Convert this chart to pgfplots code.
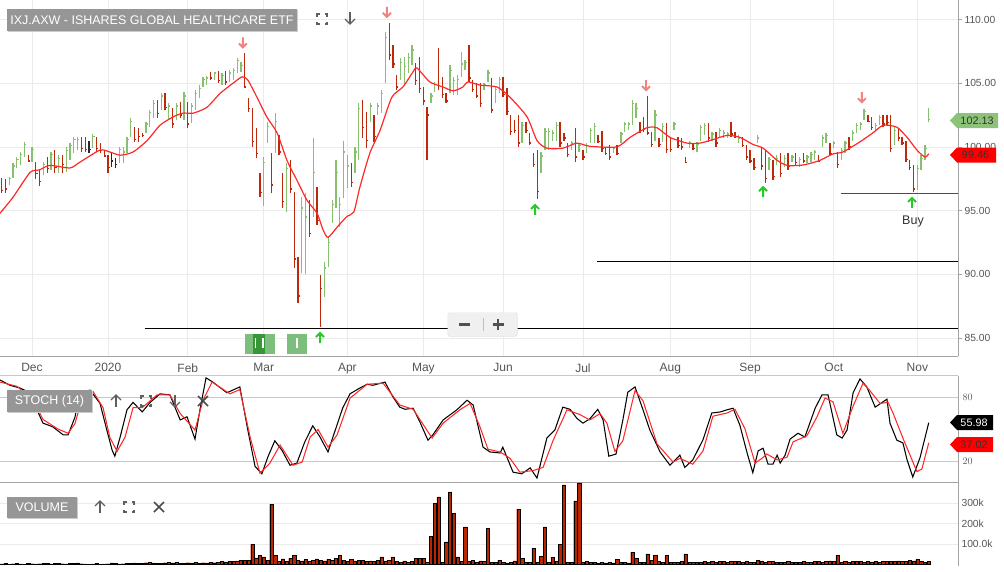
\documentclass[border=0pt]{standalone}
\usepackage{fontspec}
\setmainfont{Liberation Sans}
\usepackage{pgfplots}
\pgfplotsset{compat=1.18}
\usepackage{pgfplotstable}
\definecolor{upg}{RGB}{135,192,110}
\definecolor{dnr}{RGB}{190,40,10}
\definecolor{flatc}{RGB}{40,40,50}
\definecolor{mared}{RGB}{255,40,40}
\definecolor{gridc}{RGB}{235,235,235}
\definecolor{gridd}{RGB}{200,200,200}
\definecolor{axisc}{RGB}{165,165,165}
\definecolor{labc}{RGB}{85,85,85}
\definecolor{volr}{RGB}{185,38,0}
\definecolor{boxg}{RGB}{150,150,150}
\definecolor{arrred}{RGB}{240,130,130}
\definecolor{arrgreen}{RGB}{40,200,40}
\definecolor{tagg}{RGB}{140,195,120}
\definecolor{iconc}{RGB}{95,95,95}
\definecolor{ibox}{RGB}{125,190,125}
\definecolor{iboxd}{RGB}{55,150,55}

\pgfdeclareplotmark{dnarr}{%
 \pgfpathmoveto{\pgfqpoint{0pt}{5pt}}\pgfpathlineto{\pgfqpoint{0pt}{-5pt}}%
 \pgfpathmoveto{\pgfqpoint{-4pt}{-1pt}}\pgfpathlineto{\pgfqpoint{0pt}{-5pt}}\pgfpathlineto{\pgfqpoint{4pt}{-1pt}}%
 \pgfusepathqstroke}
\pgfdeclareplotmark{uparr}{%
 \pgfpathmoveto{\pgfqpoint{0pt}{-5pt}}\pgfpathlineto{\pgfqpoint{0pt}{5pt}}%
 \pgfpathmoveto{\pgfqpoint{-4pt}{1pt}}\pgfpathlineto{\pgfqpoint{0pt}{5pt}}\pgfpathlineto{\pgfqpoint{4pt}{1pt}}%
 \pgfusepathqstroke}

\pgfplotstableread{
j h l c d
0 97.55 96.4 96.6 -1
1 97.5 96.4 96.7 -1
2 97.6 97.0 97.5 1
3 98.7 97.55 98.5 1
4 99.2 98.35 99.0 1
5 99.6 98.6 99.4 1
6 100.4 99.2 100.2 1
7 99.4 98.8 98.9 -1
8 100.0 98.8 99.8 1
9 98.8 97.5 97.9 -1
10 98.2 96.9 97.3 -1
11 98.8 97.8 98.6 1
12 99.2 97.95 98.3 -1
13 99.6 98.2 99.4 1
14 99.75 97.95 98.4 -1
15 99.35 97.95 99.1 1
16 99.35 97.95 98.6 -1
17 100.0 98.0 99.7 1
18 100.3 99.0 100.1 1
19 100.8 99.5 100.6 1
20 100.8 99.75 100.6 1
21 100.8 99.6 99.9 -1
22 100.8 99.6 99.8 -1
23 100.5 99.5 99.8 0
24 101.0 99.9 100.8 1
25 100.8 99.6 99.9 -1
26 100.3 99.5 99.7 -1
27 99.75 99.2 99.3 -1
28 99.35 97.95 98.4 -1
29 99.6 98.4 98.9 0
30 99.1 98.35 98.6 0
31 100.0 98.7 99.8 1
32 100.0 98.7 99.6 1
33 100.8 99.5 100.6 1
34 102.3 100.8 102.0 1
35 101.6 100.4 100.6 -1
36 101.5 100.4 100.8 -1
37 101.1 100.8 100.9 -1
38 101.95 101.1 101.8 1
39 102.9 101.6 102.7 1
40 103.7 102.3 103.4 1
41 103.7 102.3 102.6 -1
42 104.2 102.9 104.0 1
43 104.25 102.9 103.1 -1
44 103.45 102.1 103.2 1
45 103.05 101.5 101.8 -1
46 103.45 102.1 103.2 1
47 103.5 102.3 102.5 -1
48 104.3 102.1 104.0 1
49 103.5 101.5 101.8 -1
50 103.45 101.9 103.2 1
51 104.5 102.9 104.2 1
52 104.85 103.8 104.6 1
53 105.5 104.7 105.3 1
54 105.6 104.85 105.4 1
55 105.9 105.25 105.4 -1
56 105.9 105.25 105.8 1
57 105.95 105.0 105.2 -1
58 105.8 104.85 105.6 1
59 105.95 104.85 105.1 -1
60 106.0 105.1 105.8 1
61 106.2 105.25 106.0 1
62 107.0 105.8 106.8 1
63 106.65 105.9 106.4 1
64 107.35 104.6 104.7 -1
65 103.85 102.75 103.0 -1
66 103.05 100.0 100.4 -1
67 101.5 99.1 99.5 -1
68 97.95 96.05 96.4 -1
69 99.2 95.4 98.8 1
70 101.95 100.3 101.6 1
71 99.5 96.4 97.0 -1
72 102.65 99.5 102.0 1
73 100.9 99.35 99.6 -1
74 97.95 95.2 95.7 -1
75 98.7 94.9 98.3 1
76 98.95 96.4 96.7 -1
77 96.45 90.5 91.2 -1
78 91.35 87.75 88.3 -1
79 96.1 90.1 95.2 1
80 96.4 90.0 94.5 1
81 95.8 92.9 93.2 -1
82 100.7 94.5 98.0 1
83 96.85 93.85 94.2 -1
84 89.95 85.85 88.9 -1
85 90.95 88.2 90.5 1
86 92.85 90.55 92.5 1
87 95.8 94.0 95.5 1
88 98.95 95.2 98.0 1
89 96.1 93.7 95.5 1
90 100.5 96.0 99.6 1
91 99.35 96.75 98.5 1
92 98.7 96.85 97.2 -1
93 100.0 97.95 99.6 1
94 103.45 99.0 103.0 1
95 103.7 100.7 101.5 -1
96 102.75 99.9 100.5 -1
97 103.45 101.95 103.2 1
98 102.5 100.4 100.8 -1
99 103.45 102.5 103.2 1
100 104.45 102.65 104.2 1
101 109.0 105.0 108.6 1
102 109.7 106.8 107.2 -1
103 108.0 106.2 106.5 -1
104 105.65 104.45 104.7 -1
105 107.0 105.25 106.6 1
106 107.05 104.85 106.3 1
107 107.35 105.8 107.0 1
108 108.0 106.4 107.6 1
109 106.6 104.85 105.2 -1
110 107.05 104.2 104.6 -1
111 104.7 103.3 103.6 -1
112 103.1 99.0 102.5 -1
113 104.2 103.45 104.0 1
114 105.1 104.3 104.9 1
115 107.8 104.45 104.8 -1
116 105.5 103.85 104.1 -1
117 104.2 103.45 103.6 -1
118 106.4 104.2 106.0 1
119 105.5 104.05 105.2 1
120 105.65 104.05 105.3 1
121 107.45 105.5 106.5 1
122 106.8 106.0 106.6 1
123 108.0 105.1 105.4 -1
124 105.25 104.3 104.5 -1
125 105.0 103.85 104.0 -1
126 105.0 103.1 103.4 -1
127 105.0 104.45 104.9 1
128 106.0 105.1 105.8 1
129 105.4 102.65 102.9 -1
130 104.7 103.45 104.5 1
131 105.5 104.2 105.3 1
132 105.5 103.9 104.1 -1
133 104.6 102.5 102.8 -1
134 102.5 100.95 101.2 -1
135 102.1 101.1 101.3 -1
136 102.5 100.0 100.3 -1
137 101.95 100.3 101.7 1
138 101.95 101.1 101.3 -1
139 101.1 100.15 100.3 -1
140 99.5 98.4 98.6 -1
141 99.75 95.9 96.5 -1
142 99.6 97.95 99.3 1
143 101.5 99.75 101.2 1
144 101.5 99.75 101.2 1
145 101.3 100.5 101.1 1
146 101.95 100.5 101.7 1
147 101.95 100.0 100.3 -1
148 101.1 100.5 100.7 -1
149 100.3 99.2 99.4 -1
150 100.5 99.75 100.3 1
151 101.5 98.8 99.2 -1
152 100.3 99.6 100.1 1
153 99.75 98.95 99.2 -1
154 100.3 99.5 100.1 1
155 101.5 100.3 101.3 1
156 101.9 100.3 101.6 1
157 100.9 100.3 100.4 -1
158 101.25 99.6 99.9 -1
159 100.0 99.35 99.5 -1
160 100.15 98.95 99.2 -1
161 100.0 99.5 99.9 1
162 100.15 99.35 99.5 -1
163 101.2 100.3 101.0 1
164 101.95 101.2 101.8 1
165 101.95 101.3 101.8 1
166 103.7 101.7 103.4 1
167 103.45 102.3 103.0 1
168 101.95 101.1 101.3 -1
169 102.35 101.15 101.4 -1
170 104.0 100.9 101.1 -1
171 101.15 100.0 100.2 -1
172 102.9 100.5 102.5 1
173 100.7 100.0 100.2 -1
174 101.9 100.4 101.6 1
175 101.9 99.5 99.8 -1
176 100.8 99.6 99.8 -1
177 101.95 101.3 101.8 1
178 100.8 99.9 100.1 -1
179 100.7 99.75 100.0 -1
180 99.2 98.7 98.8 -1
181 100.5 99.9 100.3 1
182 100.3 99.75 99.9 -1
183 100.4 99.6 100.2 1
184 101.75 100.5 101.5 1
185 101.9 100.95 101.7 1
186 101.9 100.4 100.7 -1
187 101.15 100.5 101.0 1
188 101.15 100.0 100.3 -1
189 101.5 100.7 101.3 1
190 101.3 100.7 101.1 1
191 101.15 100.7 101.0 1
192 101.95 100.8 101.0 -1
193 101.15 100.7 100.8 -1
194 100.9 100.3 100.7 1
195 100.8 100.0 100.1 -1
196 100.15 98.95 99.2 -1
197 99.75 98.7 98.9 -1
198 99.1 98.2 98.4 -1
199 100.9 100.3 100.7 1
200 100.0 98.2 98.5 -1
201 99.75 97.2 97.5 -1
202 99.2 98.2 99.0 1
203 98.95 97.4 97.7 -1
204 99.35 98.55 99.1 1
205 99.5 97.6 97.9 -1
206 99.35 98.4 99.1 1
207 99.5 98.2 98.5 -1
208 99.35 98.8 99.2 1
209 99.5 98.6 98.8 -1
210 99.2 98.4 99.0 1
211 99.5 98.7 98.9 -1
212 99.35 98.7 99.2 1
213 99.6 98.8 99.4 1
214 99.75 98.95 99.6 1
215 99.35 98.8 98.9 -1
216 100.9 100.0 100.7 1
217 101.1 100.3 100.9 1
218 100.3 99.35 99.5 -1
219 100.5 99.9 100.3 1
220 99.6 98.35 98.6 -1
221 99.9 98.95 99.7 1
222 100.5 99.5 100.3 1
223 100.8 99.75 100.0 -1
224 101.3 100.5 101.1 1
225 101.9 101.1 101.7 1
226 101.95 101.3 101.8 1
227 102.95 102.1 102.8 1
228 102.5 101.95 102.0 -1
229 102.35 101.3 101.5 -1
230 101.9 101.3 101.7 1
231 102.5 101.7 102.3 1
232 102.5 101.6 101.8 -1
233 102.5 101.7 101.9 -1
234 102.5 99.6 99.9 -1
235 101.6 100.15 101.3 1
236 101.5 100.5 100.7 -1
237 100.8 100.15 100.3 -1
238 100.5 98.8 99.0 -1
239 98.95 98.2 98.4 -1
240 98.6 96.45 96.7 -1
241 98.6 96.6 98.3 1
242 99.35 98.2 99.1 1
243 100.15 98.95 99.9 1
244 103.05 101.95 102.13 1
}\ohlc

\pgfplotsset{
 panel/.style={scale only axis, width=958pt, xmin=-0.42, xmax=251.7,
   axis line style={draw=axisc, line width=0.8pt}, clip=true},
 ohlcbar/.style={draw=none, mark=none, forget plot,
   error bars/y dir=both, error bars/y explicit, error bars/x dir=plus,
   error bars/x fixed=0.45, error bars/error mark=none,
   error bars/error bar style={draw=#1, line width=1.35pt}},
}

\begin{document}
\begin{tikzpicture}[x=1pt,y=1pt]
\useasboundingbox (0pt,-571pt) rectangle (1004pt,0pt);

% ---------------- price panel ----------------
\begin{axis}[panel, at={(0pt,0pt)}, anchor=north west, height=356pt,
 ymin=83.59, ymax=111.53,
 axis x line*=bottom, axis y line*=right,
 xtick={8,49,69,91,111,132,153,176,197,219,241},
 xticklabels={Dec,Feb,Mar,Apr,May,Jun,Jul,Aug,Sep,Oct,Nov},
 extra x ticks={28}, extra x tick labels={2020},
 extra x tick style={grid style={draw=gridd, line width=0.9pt}},
 xtick style={draw=none},
 ytick={85,90,95,100,105,110},
 yticklabels={85.00,90.00,95.00,100.00,105.00,110.00},
 ytick style={draw=axisc, line width=0.6pt}, tick align=outside, major tick length=4pt,
 grid=major, major grid style={draw=gridc, line width=0.8pt},
 xticklabel style={font=\fontsize{12}{12}\selectfont, text=labc},
 yticklabel style={font=\fontsize{10.3}{11}\selectfont, text=labc, xshift=-1pt},
]
\addplot[black, line width=1.1pt] coordinates {(37.7,85.77)(251.7,85.77)};
\addplot[black, line width=1.1pt] coordinates {(156.7,91.03)(251.7,91.03)};
\addplot[black!70, line width=1.6pt] coordinates {(220.9,96.33)(251.7,96.33)};

\addplot[restrict expr to domain={\thisrow{d}}{0.5:1.5}, ohlcbar=upg]
  table[x=j, y=c, y error plus expr=\thisrow{h}-\thisrow{c}, y error minus expr=\thisrow{c}-\thisrow{l}] {\ohlc};
\addplot[restrict expr to domain={\thisrow{d}}{-1.5:-0.5}, ohlcbar=dnr]
  table[x=j, y=c, y error plus expr=\thisrow{h}-\thisrow{c}, y error minus expr=\thisrow{c}-\thisrow{l}] {\ohlc};
\addplot[restrict expr to domain={\thisrow{d}}{-0.5:0.5}, ohlcbar=flatc]
  table[x=j, y=c, y error plus expr=\thisrow{h}-\thisrow{c}, y error minus expr=\thisrow{c}-\thisrow{l}] {\ohlc};

\addplot[mared, line width=1.2pt, smooth, tension=0.4] coordinates {
(-0.4,94.8)(3,96.05)(7.5,98.0)(10,98.2)(12.7,98.55)(18,98.35)(20.6,98.8)(25.9,99.75)
(28.5,99.6)(31.2,99.35)(34.6,99.6)(38.3,100.5)(41.7,101.7)(45.1,102.35)(47.7,102.65)
(50.4,102.65)(54,103.1)(57.5,104.2)(60.9,105.0)(63.3,105.5)(64.8,105.25)(67.2,103.9)
(69.8,102.35)(72.5,101.1)(75.1,98.95)(77.7,97.4)(80.4,95.8)(83,94.8)(84.6,93.5)
(85.9,92.9)(88.3,93.7)(90.9,94.55)(92.7,94.9)(94.3,96.85)(96.9,99.5)(99.6,101.3)
(102.7,103.9)(105.6,104.7)(108.3,105.9)(109.3,106.2)(112.7,105.1)(116.2,104.7)
(118.8,104.4)(121.4,104.7)(122.7,105.1)(125.9,104.85)(130.4,104.7)(133.8,103.9)
(138.3,102.35)(140.9,100.5)(143.5,99.9)(147.7,99.9)(151.4,100.3)(154.8,100.05)
(161.9,100.0)(165.4,100.75)(169.8,101.5)(172.5,101.5)(175.9,100.75)(180.4,100.3)
(183.8,100.3)(186.4,100.5)(190.9,100.9)(194.3,100.75)(197.7,100.2)(200.4,99.9)
(204.1,98.95)(206.7,98.55)(210.1,98.55)(212.7,98.7)(215.4,98.95)(218.8,99.45)
(221.4,99.6)(225.9,100.4)(229.3,101.1)(232,101.7)(235.6,101.55)(238.3,100.75)
(240.9,99.75)(243,99.2)(244,99.46)};

\addplot[only marks, mark=dnarr, arrred, mark options={line width=1.9pt}] coordinates
 {(63.5,108.2)(101.4,110.6)(169.6,104.85)(226.4,103.9)};
\addplot[only marks, mark=uparr, arrgreen, mark options={line width=1.9pt}] coordinates
 {(83.8,85.0)(140.4,95.05)(200.4,96.45)(239.6,95.6)};
\end{axis}

% ---------------- stochastic panel ----------------
\begin{axis}[panel, at={(0pt,-375.7pt)}, anchor=north west, height=106.6pt,
 ymin=0, ymax=100,
 axis x line*=bottom, axis y line*=right,
 xtick=\empty, ytick={20,80}, extra y ticks={100}, extra y tick labels={},
 ymajorgrids, major grid style={draw=gridd, line width=0.9pt},
 ytick style={draw=none},
 yticklabel style={font=\fontsize{10.3}{11}\selectfont, text=labc, xshift=1pt},
]
\addplot[black, line width=1.05pt] coordinates {
(-0.4,96)(2.2,91)(4.8,88.5)(7.5,84)(9.3,68)(10.9,55.5)(13.5,52)(16.2,44.5)(17.5,44.5)
(19.3,61)(20.6,84)(23.3,86.5)(25.9,74)(27.7,49)(29.1,30)(29.8,24.5)(31.2,42.5)(33,68)
(34.6,75)(37,66)(39.1,75)(41.7,83)(44.3,82)(47,58.5)(48.8,61.5)(50.9,40.5)(52.2,68)
(53.8,98)(55.6,94)(59.3,84)(62.7,89.5)(64.8,49)(66.7,15)(68.5,8)(70.1,24)(71.9,39)
(73.8,30)(75.9,16)(77.7,18)(79.8,38)(81.9,53)(83.8,42.5)(85.9,28.5)(87.2,42.5)(89.8,70)
(91.7,83)(94.3,88.5)(96.2,92)(97.7,91)(100.9,94)(103,80)(104.8,70.5)(106.2,68.5)
(108.3,69.5)(110.1,56.5)(112.2,39.5)(113.5,44.5)(116.2,58.5)(119.8,68)(122.5,77)
(124.1,72.5)(126.7,33)(128.5,28.5)(131.2,27.5)(131.9,33)(134.6,9.5)(136.9,8)(139.1,13.5)
(140.9,4)(143.5,41.5)(145.6,49)(147.7,70.5)(149.6,68.5)(151.4,60)(153,55.5)(154.8,59.5)
(156.9,68.5)(158.3,58.5)(159.8,24.5)(161.7,26.5)(163.5,58.5)(164.8,84.5)(166.7,89.5)
(168.8,68)(170.6,49)(173.3,28.5)(175.9,16)(178.5,25.5)(179.8,14)(181.9,21)(184.6,40)
(186.9,65)(189.1,66)(190.9,68)(192.5,69.5)(194.3,53.5)(196.2,27.5)(197.7,9)(199.1,29.5)
(200.4,32)(201.7,17)(203,17)(204.1,25.5)(204.9,18)(206.2,25.5)(207.5,40.5)(209.6,46)
(211.4,42.5)(214.1,69.5)(215.9,82)(217.5,82)(219.8,44.5)(221.2,41.5)(222.5,49)(224.1,84)
(225.9,97)(227.7,89.5)(229.9,70.5)(233,78)(233.8,55.5)(235.6,39.5)(237.2,37)(238.3,21)
(239.8,5)(241.7,23)(244,55.98)};
\addplot[mared, line width=1.05pt] coordinates {
(-0.4,94)(4.1,90)(8.3,77)(10.9,59)(14.8,50)(17.5,46)(19.3,55)(21.4,81)(24.1,85)(26.7,70)
(28.5,42)(30.4,29)(32.5,42.5)(34.6,70)(37,70)(40.9,82)(44.3,82)(47,64.5)(50.9,49)(53,77)
(55.4,94)(60.1,83)(62.7,87)(65.4,42.5)(68,8.5)(70.6,18)(73.3,35)(76.7,16)(79.1,19)
(81.2,42.5)(83.3,49.5)(85.9,33)(88.3,44.5)(91.7,79)(96.2,92)(100.4,93)(104.8,72.5)
(108.3,68.5)(113.3,41.5)(116.2,55.5)(120.6,68)(123.3,74)(125.9,52)(128,31)(131.2,28.5)
(133.8,22.5)(136.4,9.5)(139.9,11)(142.5,14)(145.1,39)(148.8,68)(152.2,63.5)(154.8,58.5)
(157.5,64.5)(159.3,55.5)(161.4,29)(163.5,39)(166.7,86)(168.8,76.5)(172.5,36)(176.7,19)
(178.5,22.5)(181.9,17)(184.6,29.5)(187.2,62)(190.9,65)(193,68.5)(195.6,50.5)(198.3,18)
(200.1,22.5)(201.4,26.5)(204.1,21)(206.7,23.5)(208.3,38)(211.9,43.5)(214.6,61.5)
(216.7,79)(218.8,75.5)(221.4,46)(224.1,71.5)(226.7,93)(228.5,86)(231.2,74)(233.3,75)
(234.6,65)(237.2,41.5)(239.6,21)(240.9,10)(242.2,12.5)(244,37.02)};
\end{axis}

% ---------------- volume panel ----------------
\begin{axis}[panel, at={(0pt,-482.3pt)}, anchor=north west, height=83.7pt,
 ymin=-7.3, ymax=401,
 axis x line=none, axis y line*=right,
 xtick=\empty, ytick={100,200,300}, yticklabels={100.0k,200k,300k},
 ymajorgrids, major grid style={draw=gridc, line width=0.8pt},
 ytick style={draw=none},
 yticklabel style={font=\fontsize{10.3}{11}\selectfont, text=labc},
]
\addplot[ybar, bar width=3.3pt, fill=volr, draw=black, line width=0.3pt] coordinates {
(0,3)(1,5)(2,2)(3,4)(4,6)(5,3)(6,2)(7,5)(8,4)(9,3)
(10,4)(11,6)(12,5)(13,3)(14,7)(15,5)(16,4)(17,3)(18,5)(19,6)
(20,8)(21,4)(22,3)(23,2)(24,3)(25,6)(26,2)(27,3)(28,4)(29,8)
(30,5)(31,3)(32,4)(33,7)(34,6)(35,8)(36,5)(37,7)(38,9)(39,10)
(40,8)(41,7)(42,6)(43,9)(44,11)(45,8)(46,10)(47,7)(48,6)(49,9)
(50,8)(51,10)(52,7)(53,9)(54,8)(55,11)(56,9)(57,12)(58,15)(59,13)
(60,14)(61,15)(62,18)(63,20)(64,22)(65,20)(66,100)(67,32)(68,46)(69,37)
(70,20)(71,295)(72,46)(73,17)(74,27)(75,15)(76,30)(77,44)(78,20)(79,18)
(80,25)(81,15)(82,20)(83,28)(84,22)(85,18)(86,25)(87,20)(88,30)(89,44)
(90,20)(91,15)(92,25)(93,18)(94,22)(95,20)(96,15)(97,18)(98,16)(99,20)
(100,37)(101,18)(102,20)(103,37)(104,15)(105,12)(106,18)(107,10)(108,15)(109,30)
(110,30)(111,30)(112,10)(113,139)(114,300)(115,330)(116,12)(117,110)(118,354)(119,251)
(120,37)(121,15)(122,183)(123,14)(124,20)(125,12)(126,18)(127,14)(128,178)(129,12)
(130,12)(131,20)(132,12)(133,8)(134,10)(135,18)(136,270)(137,30)(138,12)(139,10)
(140,80)(141,12)(142,40)(143,183)(144,12)(145,35)(146,15)(147,100)(148,388)(149,12)
(150,12)(151,310)(152,398)(153,10)(154,14)(155,12)(156,10)(157,8)(158,10)(159,8)
(160,10)(161,8)(162,25)(163,12)(164,10)(165,8)(166,60)(167,30)(168,12)(169,10)
(170,52)(171,20)(172,44)(173,15)(174,12)(175,44)(176,10)(177,10)(178,12)(179,15)
(180,52)(181,10)(182,10)(183,12)(184,10)(185,14)(186,12)(187,15)(188,12)(189,14)
(190,15)(191,12)(192,17)(193,14)(194,16)(195,12)(196,14)(197,10)(198,12)(199,22)
(200,18)(201,12)(202,14)(203,16)(204,12)(205,10)(206,12)(207,14)(208,12)(209,10)
(210,12)(211,14)(212,10)(213,12)(214,15)(215,14)(216,12)(217,16)(218,18)(219,14)
(220,44)(221,10)(222,14)(223,12)(224,14)(225,16)(226,15)(227,12)(228,15)(229,13)
(230,14)(231,12)(232,15)(233,16)(234,17)(235,15)(236,18)(237,14)(238,16)(239,20)
(240,18)(241,24)(242,14)(243,12)(244,14)};
\end{axis}

% ---------------- overlays ----------------
\fill[black!20] (8,-10) rectangle (298,-32);
\fill[boxg] (7,-9) rectangle (297,-31);
\node[text=white, font=\fontsize{12.5}{13}\selectfont] at (152,-20) {IXJ.AXW - ISHARES GLOBAL HEALTHCARE ETF};
\fill[black!20] (8,-391) rectangle (93,-413);
\fill[boxg] (7,-390) rectangle (92,-412);
\node[text=white, font=\fontsize{12.5}{13}\selectfont] at (49.5,-401) {STOCH (14)};
\fill[black!20] (8,-498) rectangle (78,-519);
\fill[boxg] (7,-497) rectangle (77,-518);
\node[text=white, font=\fontsize{12.5}{13}\selectfont] at (42,-507.5) {VOLUME};

\newcommand{\fsicon}[2]{%
 \draw[iconc, line width=1.6pt] (#1-5,#2+2.5) -- (#1-5,#2+5) -- (#1-2.5,#2+5);
 \draw[iconc, line width=1.6pt] (#1+2.5,#2+5) -- (#1+5,#2+5) -- (#1+5,#2+2.5);
 \draw[iconc, line width=1.6pt] (#1-5,#2-2.5) -- (#1-5,#2-5) -- (#1-2.5,#2-5);
 \draw[iconc, line width=1.6pt] (#1+2.5,#2-5) -- (#1+5,#2-5) -- (#1+5,#2-2.5);}
\newcommand{\dnicon}[2]{%
 \draw[iconc, line width=1.2pt] (#1,#2+6) -- (#1,#2-6);
 \draw[iconc, line width=1.2pt] (#1-5,#2-1) -- (#1,#2-6) -- (#1+5,#2-1);}
\newcommand{\upicon}[2]{%
 \draw[iconc, line width=1.2pt] (#1,#2-6) -- (#1,#2+6);
 \draw[iconc, line width=1.2pt] (#1-5,#2+1) -- (#1,#2+6) -- (#1+5,#2+1);}
\newcommand{\xicon}[2]{%
 \draw[iconc!80!black, line width=1.6pt] (#1-5,#2-5) -- (#1+5,#2+5);
 \draw[iconc!80!black, line width=1.6pt] (#1-5,#2+5) -- (#1+5,#2-5);}
\fsicon{322}{-19}
\dnicon{350}{-18}
\upicon{116}{-401}
\fsicon{146}{-401}
\dnicon{175}{-401}
\xicon{203}{-401}
\upicon{100}{-507}
\fsicon{129}{-507}
\xicon{159}{-507}

\fill[ibox] (245,-334) rectangle (275,-354);
\fill[iboxd] (253,-334) rectangle (265,-354);
\fill[white] (254.5,-338) rectangle (256,-348);
\fill[white] (262.2,-338) rectangle (263.7,-348);
\fill[ibox] (287,-334) rectangle (307,-354);
\fill[white] (296.3,-338) rectangle (297.8,-348);

\fill[black!12, rounded corners=2pt] (447.5,-312.5) rectangle (517.5,-336.5);
\fill[black!6, rounded corners=2pt] (448,-313) rectangle (517,-336);
\draw[black!25, line width=0.7pt] (483,-318) -- (483,-331);
\draw[iconc!85!black, line width=2.4pt] (459,-324.5) -- (470,-324.5);
\draw[iconc!85!black, line width=2.4pt] (492.5,-324.5) -- (503.5,-324.5);
\draw[iconc!85!black, line width=2.4pt] (498,-319) -- (498,-330);

\node[text=black!80, font=\fontsize{12.5}{13}\selectfont] at (913,-221) {Buy};

\fill[tagg] (950,-120.5) -- (957,-113) -- (998,-113) -- (998,-128) -- (957,-128) -- cycle;
\node[text=black!80, font=\fontsize{10.8}{11}\selectfont] at (977,-120.5) {102.13};
\fill[red] (950,-155) -- (957,-147.5) -- (996,-147.5) -- (996,-162.5) -- (957,-162.5) -- cycle;
\node[text=black!80, font=\fontsize{10.8}{11}\selectfont] at (975.5,-155) {99.46};
\fill[black] (950,-422.5) -- (957,-415) -- (993,-415) -- (993,-430) -- (957,-430) -- cycle;
\node[text=white, font=\fontsize{10.8}{11}\selectfont] at (974,-422.5) {55.98};
\fill[red] (950,-444.5) -- (957,-437) -- (993,-437) -- (993,-452) -- (957,-452) -- cycle;
\node[text=black!80, font=\fontsize{10.8}{11}\selectfont] at (974,-444.5) {37.02};
\end{tikzpicture}
\end{document}
